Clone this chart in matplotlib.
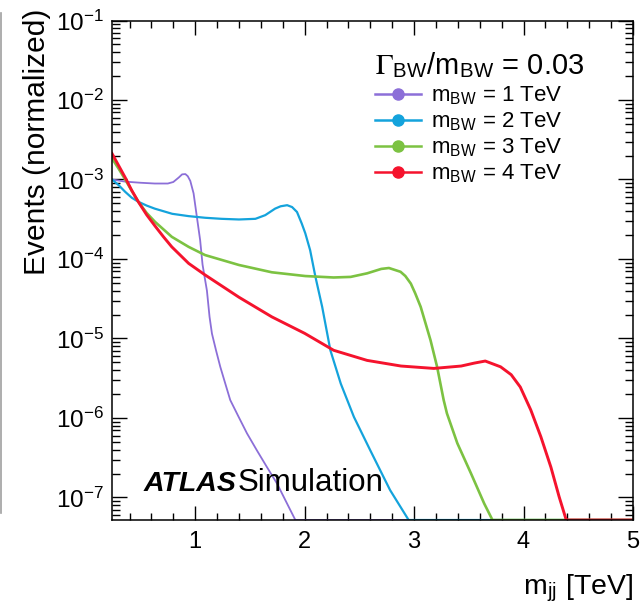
import matplotlib
matplotlib.use("Agg")
import matplotlib.pyplot as plt
from matplotlib.ticker import LogLocator, FixedLocator, MultipleLocator, NullFormatter
from matplotlib.lines import Line2D

plt.rcParams['font.family'] = ['Liberation Sans', 'DejaVu Sans']
plt.rcParams['mathtext.fontset'] = 'stix'
plt.rcParams['axes.unicode_minus'] = False

# values (m_jj in TeV, normalized events)
FLOOR = 5.2e-8

x_m1 = [0.24, 0.36, 0.50, 0.63, 0.75, 0.80, 0.85, 0.88, 0.91, 0.932, 0.955, 0.985, 1.015,
        1.045, 1.067, 1.09, 1.107, 1.131, 1.153, 1.19, 1.229, 1.275, 1.32, 1.397, 1.473,
        1.564, 1.656, 1.747, 1.808, 1.87, 1.915, 5.0]
y_m1 = [1.0e-3, 9.4e-4, 9.1e-4, 8.9e-4, 8.9e-4, 9.3e-4, 1.06e-3, 1.16e-3, 1.17e-3, 1.1e-3,
        9.6e-4, 6.7e-4, 3.4e-4, 1.73e-4, 8.5e-5, 5.5e-5, 4.0e-5, 1.87e-5, 1.15e-5, 7.1e-6,
        4.4e-6, 2.7e-6, 1.68e-6, 1.03e-6, 6.4e-7, 3.9e-7, 2.4e-7, 1.5e-7, 1.02e-7, 6.9e-8,
        FLOOR, FLOOR]

x_m2 = [0.24, 0.30, 0.36, 0.42, 0.48, 0.556, 0.63, 0.79, 0.94, 1.09, 1.24, 1.40, 1.55, 1.64,
        1.73, 1.78, 1.84, 1.885, 1.93, 1.973, 2.006, 2.05, 2.098, 2.16, 2.235, 2.33, 2.45,
        2.60, 2.78, 2.95, 5.0]
y_m2 = [1.0e-3, 8.5e-4, 7.0e-4, 5.9e-4, 5.25e-4, 4.7e-4, 4.3e-4, 3.7e-4, 3.46e-4, 3.3e-4,
        3.2e-4, 3.14e-4, 3.2e-4, 3.56e-4, 4.3e-4, 4.6e-4, 4.75e-4, 4.5e-4, 3.9e-4, 2.8e-4,
        2.1e-4, 1.29e-4, 6.0e-5, 2.5e-5, 7.1e-6, 2.7e-6, 1.03e-6, 3.9e-7, 1.24e-7, FLOOR,
        FLOOR]

x_m3 = [0.24, 0.30, 0.36, 0.42, 0.48, 0.556, 0.633, 0.786, 0.94, 1.09, 1.40, 1.70, 2.006,
        2.265, 2.42, 2.571, 2.70, 2.77, 2.876, 2.92, 2.97, 3.01, 3.06, 3.15, 3.21, 3.27, 3.30,
        3.395, 3.52, 3.64, 3.716, 5.0]
y_m3 = [1.84e-3, 1.37e-3, 1.0e-3, 7.2e-4, 5.25e-4, 3.8e-4, 2.93e-4, 1.9e-4, 1.42e-4, 1.12e-4,
        8.4e-5, 6.8e-5, 6.1e-5, 5.85e-5, 5.95e-5, 6.6e-5, 7.5e-5, 7.7e-5, 6.9e-5, 6.1e-5,
        4.9e-5, 3.7e-5, 2.5e-5, 9.5e-6, 4.4e-6, 1.68e-6, 1.14e-6, 4.8e-7, 2.0e-7, 8.4e-8,
        FLOOR, FLOOR]

x_m4 = [0.24, 0.30, 0.36, 0.42, 0.48, 0.556, 0.633, 0.71, 0.786, 0.94, 1.09, 1.40, 1.70, 2.0,
        2.265, 2.57, 2.88, 3.18, 3.43, 3.55, 3.65, 3.79, 3.887, 3.97, 4.066, 4.158, 4.25,
        4.325, 4.39, 5.0]
y_m4 = [2.12e-3, 1.5e-3, 1.06e-3, 7.3e-4, 5.25e-4, 3.6e-4, 2.6e-4, 1.9e-4, 1.42e-4, 8.8e-5,
        6.3e-5, 3.3e-5, 1.87e-5, 1.16e-5, 7.1e-6, 5.3e-6, 4.5e-6, 4.2e-6, 4.5e-6, 4.9e-6,
        5.2e-6, 4.4e-6, 3.5e-6, 2.45e-6, 1.26e-6, 5.8e-7, 2.4e-7, 1.02e-7, FLOOR, FLOOR]

labels = ['1', '2', '3', '4']
colors = ['#8c6fd8', '#14a3dc', '#7cc242', '#f5132d']
widths = [1.3, 1.6, 1.9, 2.1]
x_ticks = [1, 2, 3, 4, 5]
y_ticks = [1e-7, 1e-6, 1e-5, 1e-4, 1e-3, 1e-2, 1e-1]

fig = plt.figure(figsize=(6.42, 6.07), dpi=100)
ax = fig.add_axes([0.1745, 0.1433, 0.8115, 0.8229])

series = [(x_m1, y_m1), (x_m2, y_m2), (x_m3, y_m3), (x_m4, y_m4)]
for (xs, ys), c, lw in zip(series, colors, widths):
    ax.plot(xs, ys, color=c, lw=lw)

ax.set_yscale('log')
ax.set_xlim(0.24, 5.0)
ax.set_ylim(FLOOR, 0.1)

ax.xaxis.set_major_locator(FixedLocator(x_ticks))
ax.xaxis.set_minor_locator(MultipleLocator(0.2))
ax.yaxis.set_major_locator(FixedLocator(y_ticks))
ax.yaxis.set_minor_locator(LogLocator(base=10, subs=range(2, 10), numticks=20))
ax.yaxis.set_minor_formatter(NullFormatter())

ax.tick_params(which='both', direction='in', top=True, right=True, width=1.0, colors='black')
ax.tick_params(axis='y', which='major', length=11, pad=6, labelsize=17.5)
ax.tick_params(axis='y', which='minor', length=6)
ax.tick_params(axis='x', which='major', length=10, pad=8, labelsize=17)
ax.tick_params(axis='x', which='minor', length=5)
for s in ax.spines.values():
    s.set_linewidth(1.1)

ax.set_ylabel('Events (normalized)', fontsize=21.5, loc='top')
ax.yaxis.set_label_coords(-0.117, 1.024)
ax.set_xlabel(r'm$_{\mathregular{jj}}$ [TeV]', fontsize=20.5, loc='right', labelpad=14)

handles = [Line2D([], [], color=c, lw=1.8, marker='o', markersize=8) for c in colors]
leg = ax.legend(handles, [r'm$_{\mathregular{BW}}$ = %s TeV' % m for m in labels],
                title=r'$\Gamma_{\mathregular{BW}}$/m$_{\mathregular{BW}}$ = 0.03',
                title_fontsize=21, fontsize=16, frameon=False, loc='upper right',
                bbox_to_anchor=(0.906, 0.94), handlelength=2.1, handletextpad=0.45,
                labelspacing=0.18, borderaxespad=0, borderpad=0)
leg._legend_box.align = 'left'

ax.text(0.06, 0.059, 'ATLAS', transform=ax.transAxes, fontsize=20.5, fontweight='bold',
        style='italic', va='baseline')
ax.text(0.241, 0.059, 'Simulation', transform=ax.transAxes, fontsize=22.5, va='baseline')

fig.add_artist(Line2D([0.001, 0.001], [0.155, 0.978], color='#a0a0a0', lw=1.2))

fig.savefig('out.png', dpi=100)
